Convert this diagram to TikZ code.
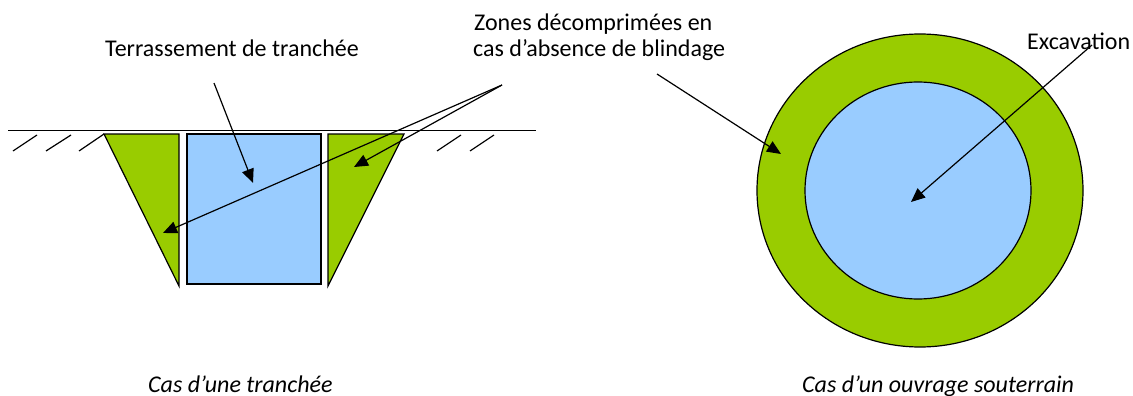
\documentclass[tikz,border=0pt]{standalone}
\usepackage{fontspec}
\setmainfont{Carlito}
\usetikzlibrary{arrows.meta}
\definecolor{zgreen}{HTML}{99CC00}
\definecolor{zblue}{HTML}{99CCFF}
\begin{document}
\begin{tikzpicture}[x=1pt,y=-1pt,
  lbl/.style={font=\fontsize{24}{27}\selectfont, inner sep=0pt, anchor=base west},
  captxt/.style={font=\fontsize{24}{27}\selectfont\itshape, inner sep=0pt, anchor=base west},
  zone/.style={fill=zgreen, draw=black, line width=1.2pt, line join=miter},
  exc/.style={fill=zblue, draw=black, line width=1.2pt},
  hatch/.style={line width=1.2pt},
  ptr/.style={line width=1.2pt, -{Triangle[length=14pt,width=12pt]}}]
\useasboundingbox (0,0) rectangle (1133,396);
% left: trench
\draw[zone] (104,134) -- (179,134) -- (179,286) -- cycle;
\draw[exc] (187,134) rectangle (321,284);
\draw[zone] (328,134) -- (404,134) -- (328,286) -- cycle;
\draw[line width=1.6pt] (8,130.5) -- (536,130.5);
\draw[hatch] (13,151) -- (37,135);
\draw[hatch] (46,151) -- (71,135);
\draw[hatch] (79,151) -- (104,134);
\draw[hatch] (437,151) -- (461,135);
\draw[hatch] (470,151) -- (494,135);
% right: tunnel
\draw[zone] (920,190.5) ellipse [x radius=163pt, y radius=156.5pt];
\draw[exc] (918,190.5) ellipse [x radius=113pt, y radius=108.5pt];
% labels
\node[lbl] (terr) at (105,57) {Terrassement de tranchée};
\node[lbl] (zones1) at (474,31) {Zones décomprimées en};
\node[lbl] (zones2) at (473,57) {cas d’absence de blindage};
\node[lbl] (excav) at (1027,50) {Excavation};
\node[captxt] (captr) at (148,392) {Cas d’une tranchée};
\node[captxt] (capso) at (802,392) {Cas d’un ouvrage souterrain};
% arrow anchors
\coordinate (terrS) at (214,83);
\coordinate (terrT) at (253,183);
\coordinate (zoneS) at (502,85);
\coordinate (zoneL) at (163,233);
\coordinate (zoneR) at (354,167);
\coordinate (zoneS2) at (657,74);
\coordinate (zoneC) at (781,154);
\coordinate (excS) at (1092,45);
\coordinate (excT) at (911,202);
\draw[ptr] (terrS) -- (terrT);
\draw[ptr] (zoneS) -- (zoneL);
\draw[ptr] (zoneS) -- (zoneR);
\draw[ptr] (zoneS2) -- (zoneC);
\draw[ptr] (excS) -- (excT);
\end{tikzpicture}
\end{document}
